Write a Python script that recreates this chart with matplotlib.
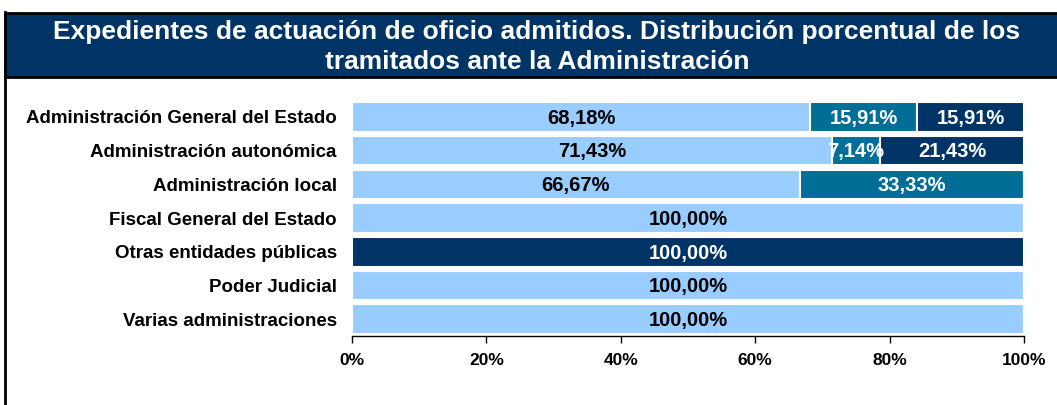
import matplotlib.pyplot as plt
import numpy as np
from matplotlib.patches import Rectangle
from matplotlib.lines import Line2D

plt.rcParams['font.family'] = ['Liberation Sans', 'DejaVu Sans']

categories = ['Administración General del Estado', 'Administración autonómica',
              'Administración local', 'Fiscal General del Estado',
              'Otras entidades públicas', 'Poder Judicial', 'Varias administraciones']
serie_a = [68.18, 71.43, 66.67, 100.0, 0.0, 100.0, 100.0]
serie_b = [15.91, 7.14, 33.33, 0.0, 0.0, 0.0, 0.0]
serie_c = [15.91, 21.43, 0.0, 0.0, 100.0, 0.0, 0.0]
ticks = [0, 20, 40, 60, 80, 100]

colors = ['#99CCFF', '#006E96', '#003366']
text_colors = ['black', 'white', 'white']

fig = plt.figure(figsize=(10.57, 4.05), dpi=100)

# title band
fig.patches.append(Rectangle((0.005, 0.81), 1.0, 0.158, transform=fig.transFigure,
                             facecolor='#003366', edgecolor='black', linewidth=2))
fig.lines.append(Line2D([0.005, 0.005], [0.0, 0.97], transform=fig.transFigure,
                        color='black', linewidth=2))
fig.text(0.508, 0.884, 'Expedientes de actuación de oficio admitidos. Distribución porcentual de los\ntramitados ante la Administración',
         ha='center', va='center', color='white', fontsize=19, fontweight='bold',
         linespacing=1.28)

ax = fig.add_axes([0.333, 0.170, 0.6357, 0.583])
y = np.arange(len(categories))
left = np.zeros(len(categories))
for vals, c, tc in zip([serie_a, serie_b, serie_c], colors, text_colors):
    vals = np.array(vals)
    ax.barh(y, vals, left=left, height=0.88, color=c, edgecolor='white', linewidth=1.5)
    for yi, l, v in zip(y, left, vals):
        if v > 0:
            ax.text(l + v / 2, yi + 0.04, f'{v:.2f}%'.replace('.', ','), ha='center', va='center',
                    color=tc, fontsize=14.5, fontweight='bold')
    left += vals

ax.set_xlim(0, 100)
ax.set_ylim(len(categories) - 0.5, -0.5)
ax.set_yticks(y)
ax.set_yticklabels(categories, fontsize=13.5, fontweight='bold')
ax.tick_params(axis='y', length=0, pad=11)
ax.set_xticks(ticks)
ax.set_xticklabels([f'{t}%' for t in ticks], fontsize=12.5, fontweight='bold')
ax.tick_params(axis='x', direction='out', length=5, width=1, pad=7)
for s in ['top', 'right', 'left']:
    ax.spines[s].set_visible(False)
ax.spines['bottom'].set_linewidth(1)

fig.savefig('out.png', dpi=100)
